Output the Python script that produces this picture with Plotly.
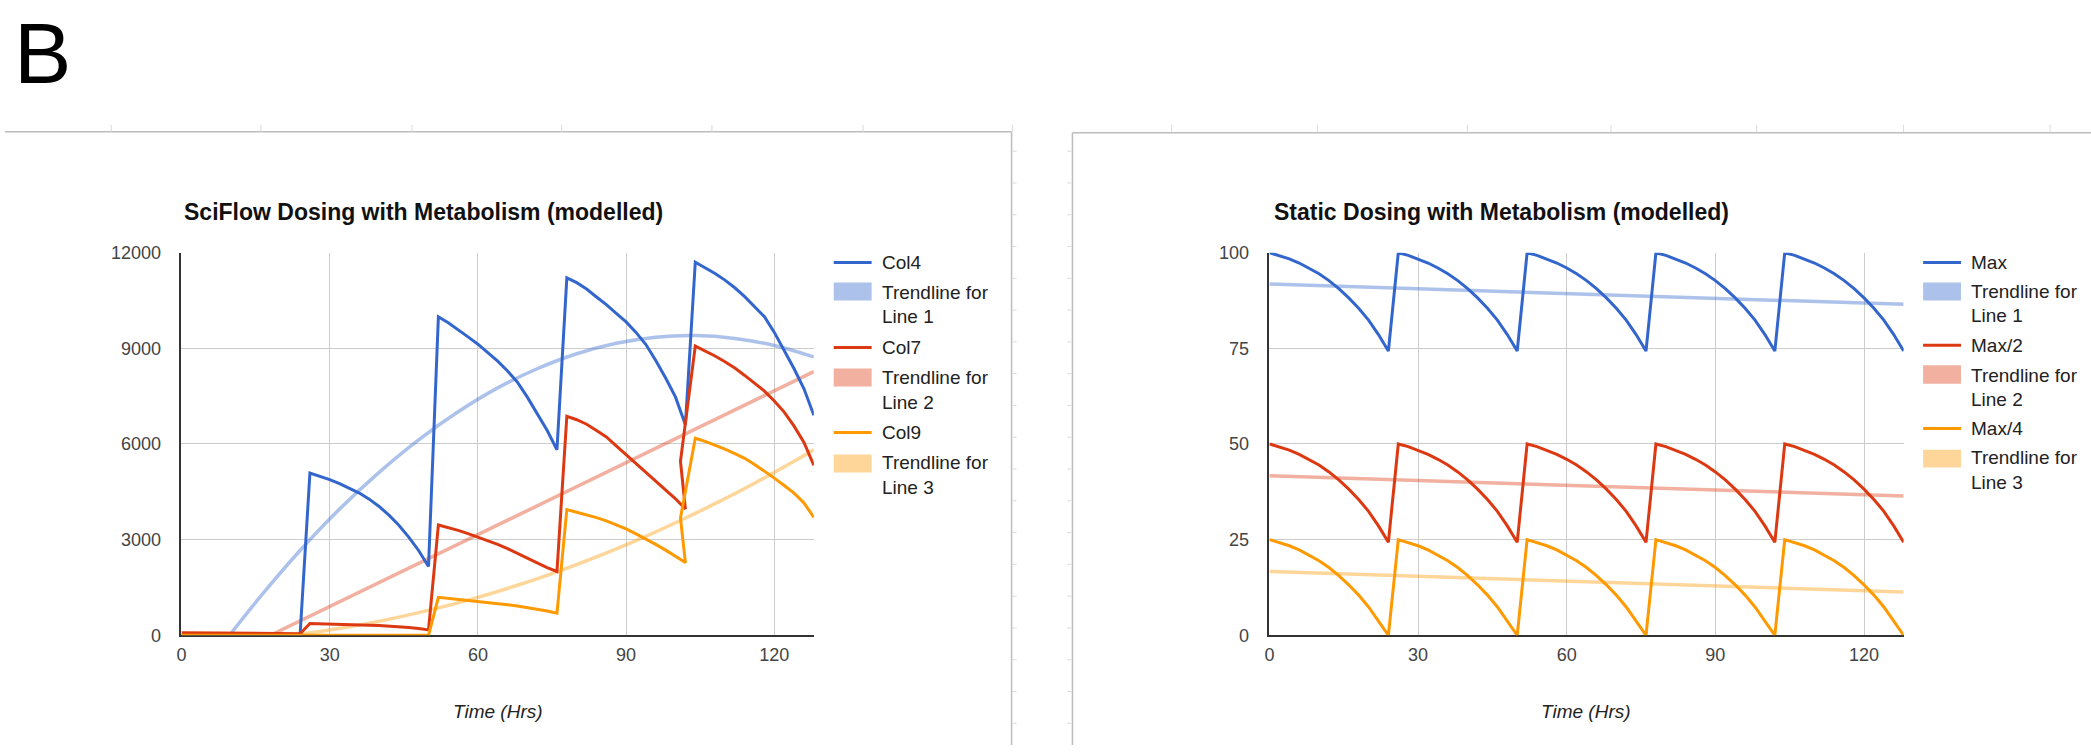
import plotly.graph_objects as go

# ---------------- data ----------------
# Left chart: SciFlow dosing
sci_t = [0, 2, 4, 6, 8, 10, 12, 14, 16, 18, 20, 22, 24,
         26, 28, 30, 32, 34, 36, 38, 40, 42, 44, 46, 48, 50,
         52, 54, 56, 58, 60, 62, 64, 66, 68, 70, 72, 74, 76,
         78, 80, 82, 84, 86, 88, 90, 92, 94, 96, 98, 100, 102,
         104, 106, 108, 110, 112, 114, 116, 118, 120, 122, 124, 126, 128]
col4 = [0, 0, 0, 0, 0, 0, 0, 0, 0, 0, 0, 0, 0,
        5090, 4990, 4880, 4760, 4620, 4460, 4270, 4040, 3770, 3450, 3080, 2660, 2160,
        9990, 9800, 9590, 9360, 9130, 8860, 8600, 8290, 7940, 7470, 6950, 6430, 5820,
        11210, 11060, 10860, 10610, 10370, 10100, 9830, 9500, 9120, 8620, 8070, 7470, 6600,
        11700, 11530, 11350, 11140, 10900, 10620, 10320, 9990, 9500, 8940, 8360, 7730, 6900]

col7_t = [0, 2, 4, 6, 8, 10, 12, 14, 16, 18, 20, 22, 24,
          26, 28, 30, 32, 34, 36, 38, 40, 42, 44, 46, 48, 50,
          52, 54, 56, 58, 60, 62, 64, 66, 68, 70, 72, 74, 76,
          78, 80, 82, 84, 86, 88, 90, 92, 94, 96, 98, 100, 102, 101,
          104, 106, 108, 110, 112, 114, 116, 118, 120, 122, 124, 126, 128]
col7 = [80, 77, 74, 71, 68, 66, 63, 61, 58, 56, 54, 52, 50,
        370, 365, 358, 350, 341, 330, 318, 304, 288, 268, 245, 215, 170,
        3460, 3380, 3290, 3190, 3080, 2970, 2850, 2720, 2580, 2420, 2270, 2120, 2000,
        6870, 6760, 6620, 6420, 6220, 5940, 5660, 5380, 5110, 4840, 4570, 4280, 3960, 5460,
        9070, 8920, 8760, 8580, 8380, 8150, 7910, 7660, 7350, 7000, 6560, 6050, 5330]

col9_t = col7_t
col9 = [0, 0, 0, 0, 0, 0, 0, 0, 0, 0, 0, 0, 0,
        0, 0, 0, 0, 0, 0, 0, 0, 0, 0, 0, 0, 0,
        1190, 1160, 1130, 1100, 1070, 1040, 1000, 960, 920, 870, 820, 760, 690,
        3940, 3860, 3780, 3690, 3590, 3470, 3340, 3180, 3020, 2850, 2670, 2480, 2280, 3680,
        6180, 6080, 5970, 5840, 5700, 5550, 5360, 5150, 4930, 4700, 4460, 4150, 3700]

trend1_t = [9.7, 16, 24, 32, 40, 48, 56, 64, 72, 80, 88, 96, 104, 112, 120, 128]
trend1 = [0, 1220, 2660, 3960, 5110, 6130, 7010, 7760, 8360, 8830, 9160, 9350, 9400, 9310, 9090, 8730]
trend2_t = [18, 128]
trend2 = [0, 8270]
trend3_t = [22, 28, 36, 44, 52, 60, 68, 76, 84, 92, 100, 108, 116, 124, 128]
trend3 = [0, 120, 320, 570, 860, 1190, 1570, 1990, 2460, 2970, 3530, 4130, 4770, 5460, 5820]

# Right chart: static dosing
st_t = sci_t
max_full = [100, 99.3, 98.4, 97.3, 96.0, 94.5, 92.7, 90.6, 88.2, 85.5, 82.4, 78.6, 74.3,
            100, 99.3, 98.4, 97.3, 96.0, 94.5, 92.7, 90.6, 88.2, 85.5, 82.4, 78.6, 74.3,
            100, 99.3, 98.4, 97.3, 96.0, 94.5, 92.7, 90.6, 88.2, 85.5, 82.4, 78.6, 74.3,
            100, 99.3, 98.4, 97.3, 96.0, 94.5, 92.7, 90.6, 88.2, 85.5, 82.4, 78.6, 74.3,
            100, 99.3, 98.4, 97.3, 96.0, 94.5, 92.7, 90.6, 88.2, 85.5, 82.4, 78.6, 74.3]
max_half = [50, 49.3, 48.4, 47.3, 46.0, 44.5, 42.7, 40.6, 38.2, 35.5, 32.4, 28.6, 24.3,
            50, 49.3, 48.4, 47.3, 46.0, 44.5, 42.7, 40.6, 38.2, 35.5, 32.4, 28.6, 24.3,
            50, 49.3, 48.4, 47.3, 46.0, 44.5, 42.7, 40.6, 38.2, 35.5, 32.4, 28.6, 24.3,
            50, 49.3, 48.4, 47.3, 46.0, 44.5, 42.7, 40.6, 38.2, 35.5, 32.4, 28.6, 24.3,
            50, 49.3, 48.4, 47.3, 46.0, 44.5, 42.7, 40.6, 38.2, 35.5, 32.4, 28.6, 24.3]
max_quarter = [25, 24.3, 23.4, 22.3, 21.0, 19.5, 17.7, 15.6, 13.2, 10.5, 7.4, 3.6, 0,
               25, 24.3, 23.4, 22.3, 21.0, 19.5, 17.7, 15.6, 13.2, 10.5, 7.4, 3.6, 0,
               25, 24.3, 23.4, 22.3, 21.0, 19.5, 17.7, 15.6, 13.2, 10.5, 7.4, 3.6, 0,
               25, 24.3, 23.4, 22.3, 21.0, 19.5, 17.7, 15.6, 13.2, 10.5, 7.4, 3.6, 0,
               25, 24.3, 23.4, 22.3, 21.0, 19.5, 17.7, 15.6, 13.2, 10.5, 7.4, 3.6, 0]
st_trend_t = [0, 128]
st_trend1 = [91.8, 86.5]
st_trend2 = [41.7, 36.4]
st_trend3 = [16.7, 11.3]

x_ticks = [0, 30, 60, 90, 120]
left_yticks = [0, 3000, 6000, 9000, 12000]
right_yticks = [0, 25, 50, 75, 100]

left_title = "SciFlow Dosing with Metabolism (modelled)"
right_title = "Static Dosing with Metabolism (modelled)"
left_names = ["Col4", "Col7", "Col9"]
right_names = ["Max", "Max/2", "Max/4"]
trend_names = [["Trendline for", "Line 1"], ["Trendline for", "Line 2"], ["Trendline for", "Line 3"]]
x_title = "Time (Hrs)"

# ---------------- styling ----------------
W, H = 2091, 755
FONT = "Liberation Sans, Arial, sans-serif"
C = ["#3366cc", "#dc3912", "#ff9900"]
CT = ["rgba(51,102,204,0.4)", "rgba(220,57,18,0.4)", "rgba(255,153,0,0.4)"]
CT_SOLID = ["#adc2eb", "#f1b0a0", "#ffd699"]


def X(px):
    return px / W


def Y(py):
    return 1 - py / H


fig = go.Figure()

# left chart traces
for tx, ty, c in [(trend1_t, trend1, CT[0]), (trend2_t, trend2, CT[1]), (trend3_t, trend3, CT[2])]:
    fig.add_trace(go.Scatter(x=tx, y=ty, mode="lines", line=dict(color=c, width=3.5, shape="spline"),
                             xaxis="x", yaxis="y", showlegend=False, hoverinfo="skip"))
for tx, ty, c, n in [(sci_t, col4, C[0], left_names[0]), (col7_t, col7, C[1], left_names[1]),
                     (col9_t, col9, C[2], left_names[2])]:
    fig.add_trace(go.Scatter(x=tx, y=ty, mode="lines", name=n, line=dict(color=c, width=3),
                             xaxis="x", yaxis="y", showlegend=False))

# right chart traces
for ty, c in [(st_trend1, CT[0]), (st_trend2, CT[1]), (st_trend3, CT[2])]:
    fig.add_trace(go.Scatter(x=st_trend_t, y=ty, mode="lines", line=dict(color=c, width=3.5),
                             xaxis="x2", yaxis="y2", showlegend=False, hoverinfo="skip"))
for ty, c, n in [(max_full, C[0], right_names[0]), (max_half, C[1], right_names[1]),
                 (max_quarter, C[2], right_names[2])]:
    fig.add_trace(go.Scatter(x=st_t, y=ty, mode="lines", name=n, line=dict(color=c, width=3),
                             xaxis="x2", yaxis="y2", showlegend=False))

axis_common = dict(showgrid=True, gridcolor="#cccccc", gridwidth=1, showline=True, linecolor="#333333",
                   linewidth=1.5, zeroline=False, ticks="", tickfont=dict(family=FONT, size=18, color="#444444"),
                   layer="below traces", fixedrange=True)

fig.update_layout(
    width=W, height=H, margin=dict(l=0, r=0, t=0, b=0),
    paper_bgcolor="white", plot_bgcolor="white", showlegend=False,
    font=dict(family=FONT),
    xaxis=dict(domain=[X(176.9), X(810.8)], range=[0, 128], anchor="y", tickvals=x_ticks,
               ticktext=[str(v) for v in x_ticks], ticklabelstandoff=2, **axis_common),
    yaxis=dict(domain=[Y(642.3), Y(249.3)], range=[0, 12000], anchor="x", tickvals=left_yticks,
               ticktext=[str(v) for v in left_yticks], ticklabelstandoff=15, **axis_common),
    xaxis2=dict(domain=[X(1267.5), X(1903.2)], range=[0, 128], anchor="y2", tickvals=x_ticks,
                ticktext=[str(v) for v in x_ticks], ticklabelstandoff=2, **axis_common),
    yaxis2=dict(domain=[Y(642.3), Y(249.3)], range=[0, 100], anchor="x2", tickvals=right_yticks,
                ticktext=[str(v) for v in right_yticks], ticklabelstandoff=15, **axis_common),
)

shapes = []
annotations = []


def line(x0, y0, x1, y1, color, width):
    shapes.append(dict(type="line", xref="paper", yref="paper", x0=X(x0), y0=Y(y0), x1=X(x1), y1=Y(y1),
                       line=dict(color=color, width=width), layer="below"))


def text(x, y, s, size, color, xanchor="left", bold=False, italic=False):
    if bold:
        s = "<b>" + s + "</b>"
    if italic:
        s = "<i>" + s + "</i>"
    annotations.append(dict(xref="paper", yref="paper", x=X(x), y=Y(y), text=s, showarrow=False,
                            xanchor=xanchor, yanchor="middle", font=dict(family=FONT, size=size, color=color)))


# spreadsheet frame around the charts
line(0, 125, 1009, 125, "#bdbdbd", 1.5)
line(1009, 125, 1009, 755, "#bdbdbd", 1.5)
line(1070, 126, 2091, 126, "#bdbdbd", 1.5)
line(1070, 126, 1070, 755, "#bdbdbd", 1.5)
for gx in [106.5, 256.5, 408, 558, 708.6, 860, 1010, 1169.5, 1315.6, 1465.9, 1609.8, 1756, 1903, 2050]:
    line(gx, 118, gx, 125, "#d9d9d9", 1)
for k in range(19):
    gy = 145 + 32.65 * k
    line(1010, gy, 1014, gy, "#d9d9d9", 1)
    line(1065, gy, 1069, gy, "#d9d9d9", 1)

# panel label
annotations.append(dict(xref="paper", yref="paper", x=X(7), y=Y(44), text="B", showarrow=False,
                        xanchor="left", yanchor="middle", font=dict(family=FONT, size=86, color="#000000")))

# titles
text(177.9, 207, left_title, 23, "#111111", bold=True)
text(1269.6, 207, right_title, 23, "#111111", bold=True)
# x axis titles
text(494, 721, x_title, 19, "#222222", xanchor="center", italic=True)
text(1585, 721, x_title, 19, "#222222", xanchor="center", italic=True)


def legend(x_line0, x_text, names, ys_line, rects, ys_t1, ys_t2):
    for i in range(3):
        shapes.append(dict(type="line", xref="paper", yref="paper", x0=X(x_line0), x1=X(x_line0 + 38),
                           y0=Y(ys_line[i]), y1=Y(ys_line[i]), line=dict(color=C[i], width=3)))
        text(x_text, ys_line[i], names[i], 19, "#222222")
        r0, r1 = rects[i]
        shapes.append(dict(type="rect", xref="paper", yref="paper", x0=X(x_line0), x1=X(x_line0 + 38),
                           y0=Y(r1), y1=Y(r0), fillcolor=CT_SOLID[i], line=dict(width=0)))
        text(x_text, ys_t1[i], trend_names[i][0], 19, "#222222")
        text(x_text, ys_t2[i], trend_names[i][1], 19, "#222222")


legend(830.7, 877, left_names, [259.3, 346.7, 434], [(280, 298.3), (368.3, 386.7), (456.7, 475)],
       [290, 377.3, 465], [315, 403.3, 490])
legend(1922.7, 1968.7, right_names, [259.3, 344.3, 430], [(280, 298.3), (365, 384), (451.7, 470)],
       [289.3, 375.3, 460], [313.3, 400, 485])

fig.update_layout(shapes=shapes, annotations=annotations)
fig.write_html("out.html", config={"displayModeBar": False, "staticPlot": False},
               post_script="document.body.style.margin='0px';document.body.style.overflow='hidden';")
